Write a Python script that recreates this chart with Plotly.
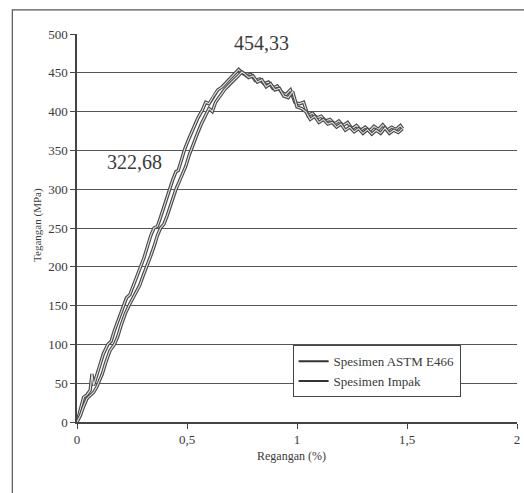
import plotly.graph_objects as go

# Regangan (%) and Tegangan (MPa) for the two specimens
regangan_astm = [0, 0.01, 0.02, 0.03, 0.045, 0.06, 0.068, 0.075, 0.085, 0.10, 0.12, 0.14,
                 0.155, 0.17, 0.19, 0.21, 0.225, 0.24, 0.255, 0.27, 0.29, 0.305, 0.32, 0.335,
                 0.35, 0.365, 0.38, 0.40, 0.42, 0.435, 0.45, 0.46, 0.475, 0.49, 0.51, 0.53,
                 0.55, 0.57, 0.585, 0.60, 0.62, 0.64, 0.66, 0.68, 0.70, 0.72, 0.735, 0.75,
                 0.77, 0.79, 0.81, 0.83, 0.85, 0.87, 0.89, 0.91, 0.93, 0.95, 0.97, 0.99,
                 1.01, 1.03, 1.05, 1.07, 1.09, 1.11, 1.13, 1.15, 1.17, 1.19, 1.21, 1.23,
                 1.25, 1.27, 1.29, 1.31, 1.33, 1.35, 1.37, 1.39, 1.41, 1.43, 1.45, 1.47, 1.48]
tegangan_astm = [0, 12, 24, 32, 35, 41, 62, 47, 56, 70, 88, 100,
                 104, 118, 134, 150, 160, 164, 175, 186, 200, 212, 226, 240,
                 250, 252, 264, 282, 300, 312, 322.68, 324, 338, 352, 366, 380,
                 392, 402, 412, 410, 420, 428, 432, 438, 444, 449, 454.33, 450,
                 446, 448, 440, 442, 436, 438, 430, 433, 425, 422, 428, 412,
                 410, 412, 395, 398, 392, 394, 388, 390, 384, 388, 382, 386,
                 378, 382, 376, 380, 375, 381, 377, 383, 376, 380, 377, 382, 378]

regangan_impak = [0, 0.015, 0.03, 0.045, 0.06, 0.075, 0.09, 0.10, 0.115, 0.13, 0.15, 0.17,
                  0.185, 0.20, 0.22, 0.24, 0.255, 0.27, 0.285, 0.30, 0.32, 0.335, 0.35, 0.365,
                  0.38, 0.395, 0.41, 0.43, 0.45, 0.465, 0.48, 0.495, 0.51, 0.525, 0.545, 0.565,
                  0.585, 0.60, 0.615, 0.63, 0.65, 0.67, 0.69, 0.71, 0.73, 0.75, 0.765, 0.78,
                  0.80, 0.82, 0.84, 0.86, 0.88, 0.90, 0.92, 0.94, 0.96, 0.98, 1.00, 1.02,
                  1.04, 1.06, 1.08, 1.10, 1.12, 1.14, 1.16, 1.18, 1.20, 1.22, 1.24, 1.26,
                  1.28, 1.30, 1.32, 1.34, 1.36, 1.38, 1.40, 1.42, 1.44, 1.46, 1.48]
tegangan_impak = [0, 8, 20, 30, 34, 38, 45, 52, 62, 76, 92, 100,
                  110, 124, 140, 152, 160, 166, 176, 188, 202, 214, 226, 240,
                  250, 255, 266, 284, 300, 310, 320, 330, 344, 356, 370, 384,
                  396, 404, 400, 412, 420, 428, 434, 440, 446, 451, 448, 444,
                  446, 438, 441, 432, 436, 428, 430, 420, 418, 426, 406, 404,
                  400, 390, 394, 386, 390, 384, 386, 380, 384, 376, 380, 374,
                  378, 372, 377, 371, 376, 372, 379, 372, 376, 373, 378]

series_names = ["Spesimen ASTM E466", "Spesimen Impak"]
y_ticks = [0, 50, 100, 150, 200, 250, 300, 350, 400, 450, 500]
x_ticks = [0, 0.5, 1, 1.5, 2]

serif = "Liberation Serif"
ink = "#3a3a3a"

fig = go.Figure()

# each curve: a dark stroke with a pale core, giving the hollow printed line
for xs, ys in [(regangan_astm, tegangan_astm), (regangan_impak, tegangan_impak)]:
    fig.add_trace(go.Scatter(x=xs, y=ys, mode="lines", showlegend=False, hoverinfo="skip",
                             line=dict(color="#4a4a4a", width=3.4)))
    fig.add_trace(go.Scatter(x=xs, y=ys, mode="lines", showlegend=False,
                             line=dict(color="#e2e2e2", width=1.1)))

# legend entries
for name in series_names:
    fig.add_trace(go.Scatter(x=[None], y=[None], mode="lines", name=name,
                             line=dict(color="#333333", width=2)))

fig.update_layout(
    width=524, height=493,
    margin=dict(l=77, r=4, t=34, b=71),
    paper_bgcolor="white", plot_bgcolor="white",
    separators=", ",
    font=dict(family=serif, color=ink, size=13),
    showlegend=True,
    legend=dict(x=0.49, y=0.198, xanchor="left", yanchor="top",
                bgcolor="white", bordercolor="#444444", borderwidth=1,
                font=dict(family=serif, size=13, color=ink),
                tracegroupgap=0, itemwidth=30),
    xaxis=dict(range=[0, 2], tickvals=x_ticks, ticks="outside", ticklen=5,
               tickcolor="#444444", showgrid=False, zeroline=False,
               showline=True, linecolor="#444444", linewidth=1.5,
               tickfont=dict(family=serif, size=13, color=ink)),
    yaxis=dict(range=[0, 500], tickvals=y_ticks, ticks="outside", ticklen=5,
               tickcolor="#444444", showgrid=True, gridcolor="#555555", gridwidth=1.2,
               zeroline=False, showline=True, linecolor="#444444", linewidth=1.5,
               tickfont=dict(family=serif, size=13, color=ink)),
    shapes=[dict(type="rect", xref="paper", yref="paper",
                 x0=-0.147, x1=1.02, y0=-0.21, y1=1.062,
                 line=dict(color="#555555", width=1.2), layer="below")],
    annotations=[
        dict(text="454,33", x=0.84, y=488, xref="x", yref="y", showarrow=False,
             font=dict(family=serif, size=20, color=ink)),
        dict(text="322,68", x=0.262, y=335, xref="x", yref="y", showarrow=False,
             font=dict(family=serif, size=20, color=ink)),
        dict(text="Tegangan (MPa)", x=-0.108, y=0.508, xref="paper", yref="paper",
             showarrow=False, textangle=-90,
             font=dict(family=serif, size=11, color=ink)),
        dict(text="Regangan (%)", x=0.488, y=-0.111, xref="paper", yref="paper",
             showarrow=False, font=dict(family=serif, size=12, color=ink)),
    ],
)

fig.write_html("out.html")
